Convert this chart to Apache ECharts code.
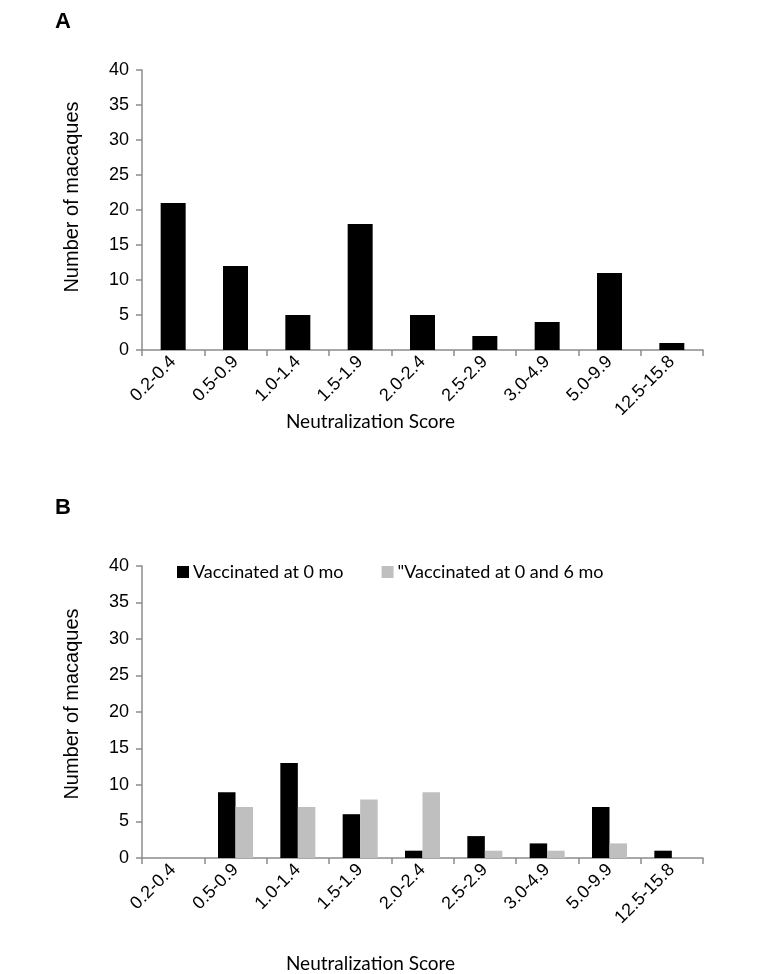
<!DOCTYPE html>
<html>
<head>
<meta charset="utf-8">
<script src="https://cdn.jsdelivr.net/npm/echarts@6/dist/echarts.min.js"></script>
<style>
html,body{margin:0;padding:0;background:#fff;}
#chart{width:763px;height:974px;}
</style>
</head>
<body>
<div id="chart"></div>
<script>
const categories = ['0.2-0.4','0.5-0.9','1.0-1.4','1.5-1.9','2.0-2.4','2.5-2.9','3.0-4.9','5.0-9.9','12.5-15.8'];
const panelAValues = [21,12,5,18,5,2,4,11,1];
const vacc0Values = [0,9,13,6,1,3,2,7,1];
const vacc06Values = [0,7,7,8,9,1,1,2,0];
const seriesNames = ['Vaccinated at 0 mo', '"Vaccinated at 0 and 6 mo'];
const yTicks = [0,5,10,15,20,25,30,35,40];

const axisColor = '#8c8c8c';
const numFont = 'Liberation Sans, Arial, sans-serif';
const textFont = 'Lato, Open Sans, sans-serif';

function xAxis(gridIndex, gap){
  return {
    type:'category', gridIndex, data:categories,
    boundaryGap:true,
    axisLine:{lineStyle:{color:axisColor,width:1.5}},
    axisTick:{show:true,length:6,lineStyle:{color:axisColor,width:1.5}},
    axisLabel:{rotate:45,margin:9,color:'#000',fontSize:18,fontFamily:numFont,interval:0},
    name:'Neutralization Score', nameLocation:'middle', nameGap:gap, nameMoveOverlap:false,
    nameTextStyle:{color:'#000',fontSize:19,fontFamily:textFont,padding:[0,104,0,0]}
  };
}
function yAxis(gridIndex, shiftUp){
  return {
    type:'value', gridIndex, min:0, max:40, interval:5,
    axisLine:{show:true,lineStyle:{color:axisColor,width:1.5}},
    axisTick:{show:true,length:6,lineStyle:{color:axisColor,width:1.5}},
    splitLine:{show:false},
    axisLabel:{margin:13,color:'#000',fontSize:18,fontFamily:numFont,
      formatter:v=>yTicks.includes(v)?String(v):''},
    name:'Number of macaques', nameLocation:'middle', nameGap:60, nameMoveOverlap:false,
    nameTextStyle:{color:'#000',fontSize:20,fontFamily:numFont,padding:[0,0,0,shiftUp*2]}
  };
}

const chart = echarts.init(document.getElementById('chart'), null, {renderer:'canvas'});
chart.setOption({
  animation:false,
  backgroundColor:'#fff',
  graphic:[
    {type:'text',left:55,top:11,style:{text:'A',font:'bold 22px Liberation Sans, Arial, sans-serif',fill:'#000'}},
    {type:'text',left:55,top:497,style:{text:'B',font:'bold 22px Liberation Sans, Arial, sans-serif',fill:'#000'}}
  ],
  grid:[
    {left:142,top:70,width:561,height:280},
    {left:142,top:566,width:561,height:294}
  ],
  legend:{
    data:seriesNames,
    left:172, top:558,
    itemWidth:12,itemHeight:12,itemGap:38,
    icon:'rect',
    textStyle:{color:'#000',fontSize:18,fontFamily:textFont,padding:[0,0,0,-1]}
  },
  xAxis:[xAxis(0,62),xAxis(1,96)],
  yAxis:[yAxis(0,13),yAxis(1,8)],
  series:[
    {name:'Panel A',type:'bar',xAxisIndex:0,yAxisIndex:0,data:panelAValues,barWidth:25,
      itemStyle:{color:'#000'}},
    {name:seriesNames[0],type:'bar',xAxisIndex:1,yAxisIndex:1,data:vacc0Values,barWidth:17.5,barGap:'0%',
      itemStyle:{color:'#000'}},
    {name:seriesNames[1],type:'bar',xAxisIndex:1,yAxisIndex:1,data:vacc06Values,barWidth:17.5,barGap:'0%',
      itemStyle:{color:'#bfbfbf'}}
  ]
});
</script>
</body>
</html>
